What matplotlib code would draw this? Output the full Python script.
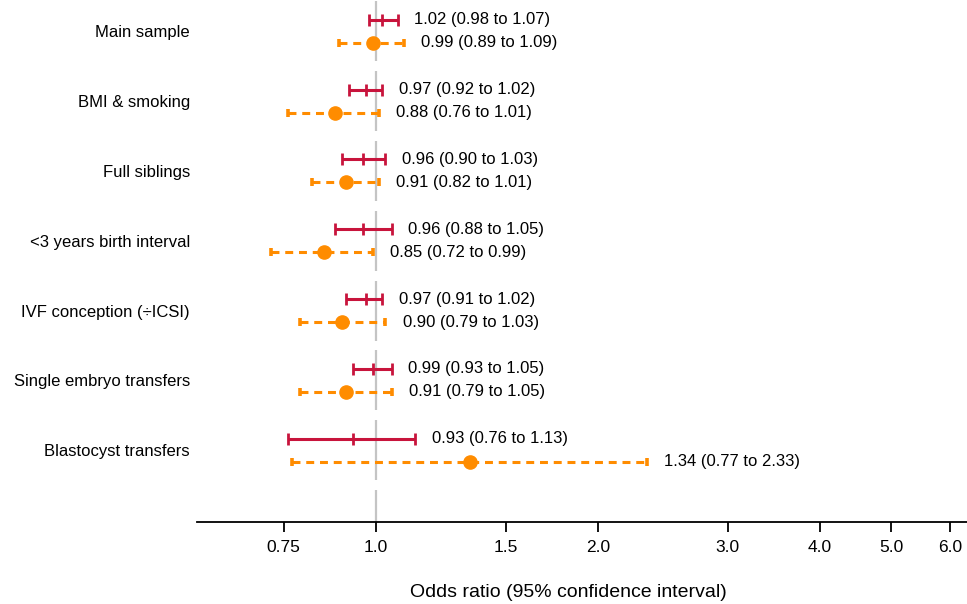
import matplotlib
matplotlib.use("Agg")
import matplotlib.pyplot as plt
from matplotlib.ticker import NullLocator

plt.rcParams['font.family'] = ['Liberation Sans', 'DejaVu Sans']

# analyses, top to bottom
labels = ['Main sample', 'BMI & smoking', 'Full siblings', '<3 years birth interval',
          'IVF conception (\u00f7ICSI)', 'Single embryo transfers', 'Blastocyst transfers']

# red series (solid)
red_est = [1.02, 0.97, 0.96, 0.96, 0.97, 0.99, 0.93]
red_lo = [0.98, 0.92, 0.90, 0.88, 0.91, 0.93, 0.76]
red_hi = [1.07, 1.02, 1.03, 1.05, 1.02, 1.05, 1.13]

# orange series (dashed)
org_est = [0.99, 0.88, 0.91, 0.85, 0.90, 0.91, 1.34]
org_lo = [0.89, 0.76, 0.82, 0.72, 0.79, 0.79, 0.77]
org_hi = [1.09, 1.01, 1.01, 0.99, 1.03, 1.05, 2.33]

xticks = [0.75, 1.0, 1.5, 2.0, 3.0, 4.0, 5.0, 6.0]
xticklabels = ['0.75', '1.0', '1.5', '2.0', '3.0', '4.0', '5.0', '6.0']

RED = '#C8143C'
ORANGE = '#FF8C00'

fig = plt.figure(figsize=(9.67, 6.04), dpi=100)
ax = fig.add_axes([0.2037, 0.1358, 0.7963, 0.8642])
ax.set_xscale('log')

n = len(labels)
off = 0.165

# reference line at 1, broken between groups
for i in range(n + 1):
    ax.plot([1, 1], [i - 0.43, i + 0.43], color='#c4c4c4', lw=1.6, zorder=1,
            solid_capstyle='butt')

for i in range(n):
    # red
    y = i - off
    ax.hlines(y, red_lo[i], red_hi[i], color=RED, lw=2.2, zorder=3)
    ax.plot([red_lo[i], red_hi[i], red_est[i]], [y, y, y], ls='none', marker='|',
            ms=9, mew=2.0, color=RED, zorder=3)
    ax.annotate('%.2f (%.2f to %.2f)' % (red_est[i], red_lo[i], red_hi[i]),
                xy=(red_hi[i], y), xytext=(12, 0), textcoords='offset points',
                ha='left', va='center', fontsize=12)
    # orange
    y = i + off
    ax.hlines(y, org_lo[i], org_hi[i], color=ORANGE, lw=2.2,
              linestyles=(0, (2.6, 1.9)), zorder=3)
    ax.plot([org_lo[i], org_hi[i]], [y, y], ls='none', marker='|',
            ms=6, mew=2.6, color=ORANGE, zorder=3)
    ax.plot([org_est[i]], [y], ls='none', marker='o', ms=9.5, color=ORANGE, zorder=4)
    ax.annotate('%.2f (%.2f to %.2f)' % (org_est[i], org_lo[i], org_hi[i]),
                xy=(org_hi[i], y), xytext=(12.5, 0), textcoords='offset points',
                ha='left', va='center', fontsize=12)

ax.set_xlim(0.572, 6.33)
ax.set_ylim(7.03, -0.45)

ax.set_yticks(range(n))
ax.set_yticklabels(labels, fontsize=12)
ax.tick_params(axis='y', length=0, pad=5)

ax.set_xticks(xticks)
ax.set_xticklabels(xticklabels, fontsize=12.5)
ax.xaxis.set_minor_locator(NullLocator())
ax.tick_params(axis='x', length=7, width=1.3, pad=6)
ax.set_xlabel('Odds ratio (95% confidence interval)', fontsize=14, labelpad=20)
ax.xaxis.set_label_coords(0.482, -0.118)

for s in ['top', 'right', 'left']:
    ax.spines[s].set_visible(False)
ax.spines['bottom'].set_linewidth(1.3)

fig.savefig('out.png', dpi=100)
